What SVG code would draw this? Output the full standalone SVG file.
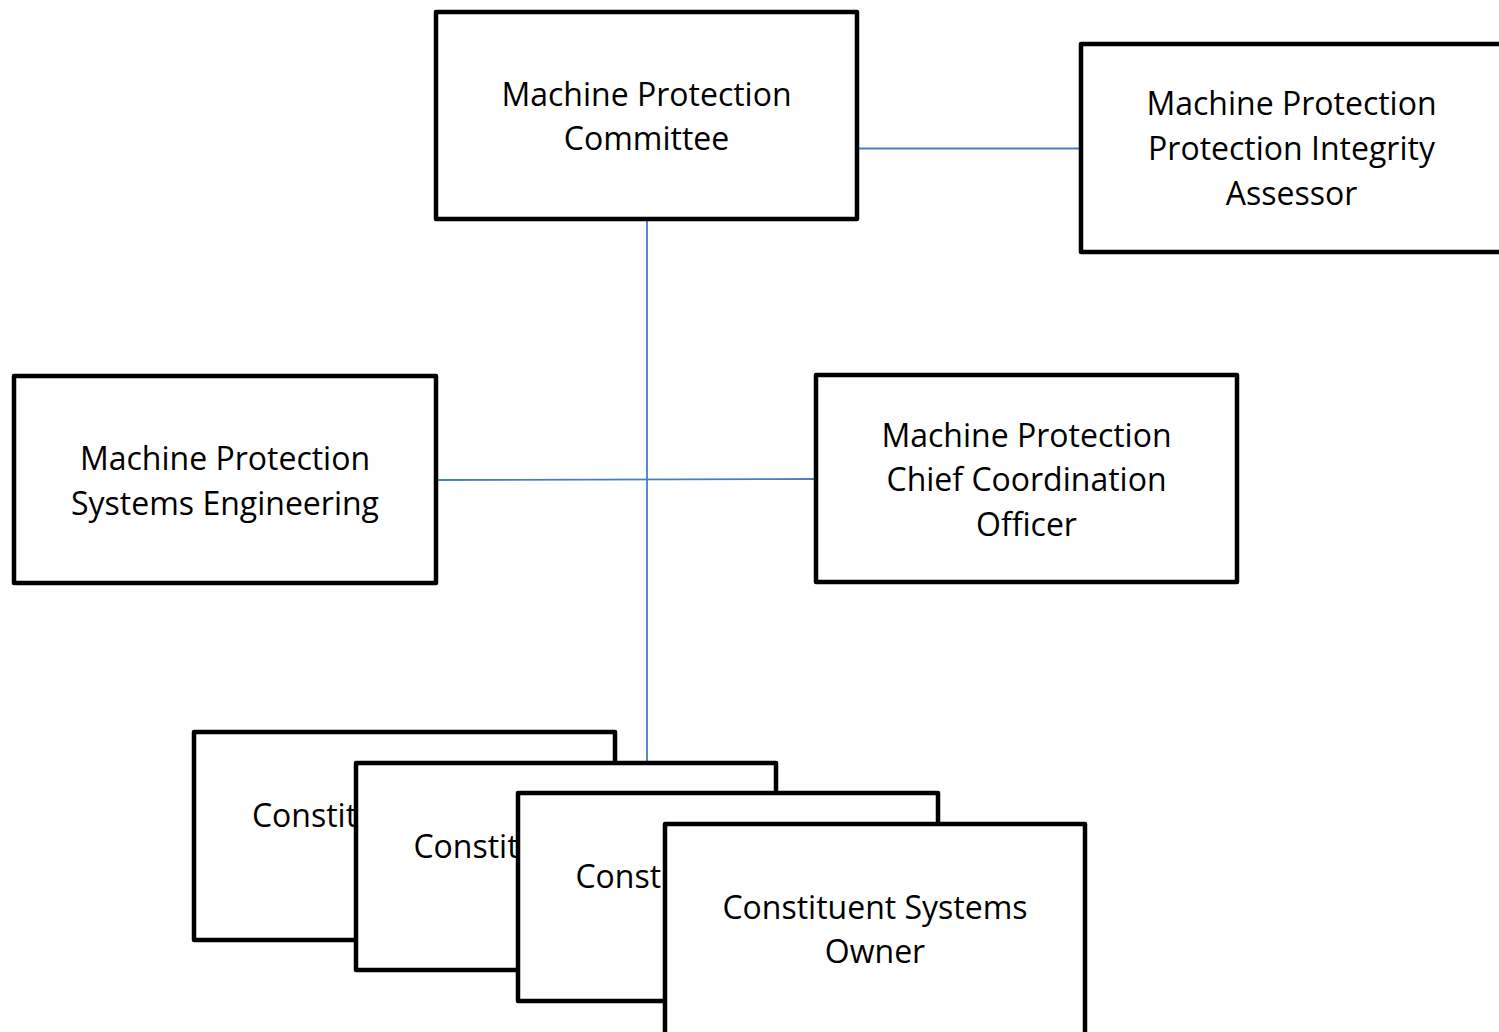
<svg xmlns="http://www.w3.org/2000/svg" width="1499" height="1032" viewBox="0 0 1499 1032">
<style>
.box{fill:#fff;stroke:#000;stroke-width:4.5;stroke-linejoin:round}
.lbl{font-family:"Open Sans","Liberation Sans",sans-serif;font-size:32px;fill:#000;text-anchor:middle}
.con{stroke:#4A7EC1;stroke-width:1.8;fill:none}
</style>
<rect width="1499" height="1032" fill="#fff"/>
<g id="connectors">
<line class="con" x1="859" y1="148.5" x2="1079" y2="148.5"/>
<line class="con" x1="647" y1="221" x2="647" y2="762"/>
<line class="con" x1="438" y1="480" x2="814" y2="479"/>
</g>
<g id="committee">
<rect class="box" x="436" y="12" width="421" height="207"/>
<text class="lbl" x="646.5" y="106">Machine Protection</text>
<text class="lbl" x="646.5" y="150">Committee</text>
</g>
<g id="assessor">
<rect class="box" x="1081" y="44" width="421" height="208"/>
<text class="lbl" x="1291.5" y="115">Machine Protection</text>
<text class="lbl" x="1291.5" y="160">Protection Integrity</text>
<text class="lbl" x="1291.5" y="205">Assessor</text>
</g>
<g id="systems-engineering">
<rect class="box" x="14" y="376" width="422" height="207"/>
<text class="lbl" x="225" y="470">Machine Protection</text>
<text class="lbl" x="225" y="515">Systems Engineering</text>
</g>
<g id="chief-coordination">
<rect class="box" x="816" y="375" width="421" height="207"/>
<text class="lbl" x="1026.5" y="447">Machine Protection</text>
<text class="lbl" x="1026.5" y="491">Chief Coordination</text>
<text class="lbl" x="1026.5" y="536">Officer</text>
</g>
<g id="owner-1">
<rect class="box" x="194" y="732" width="421" height="208"/>
<text class="lbl" x="404.5" y="827">Constituent Systems</text>
<text class="lbl" x="404.5" y="871">Owner</text>
</g>
<g id="owner-2">
<rect class="box" x="356" y="763" width="420" height="207"/>
<text class="lbl" x="566" y="858">Constituent Systems</text>
<text class="lbl" x="566" y="902">Owner</text>
</g>
<g id="owner-3">
<rect class="box" x="518" y="793" width="420" height="208"/>
<text class="lbl" x="728" y="888">Constituent Systems</text>
<text class="lbl" x="728" y="932">Owner</text>
</g>
<g id="owner-4">
<rect class="box" x="665" y="824" width="420" height="212"/>
<text class="lbl" x="875" y="919">Constituent Systems</text>
<text class="lbl" x="875" y="963">Owner</text>
</g>
</svg>
